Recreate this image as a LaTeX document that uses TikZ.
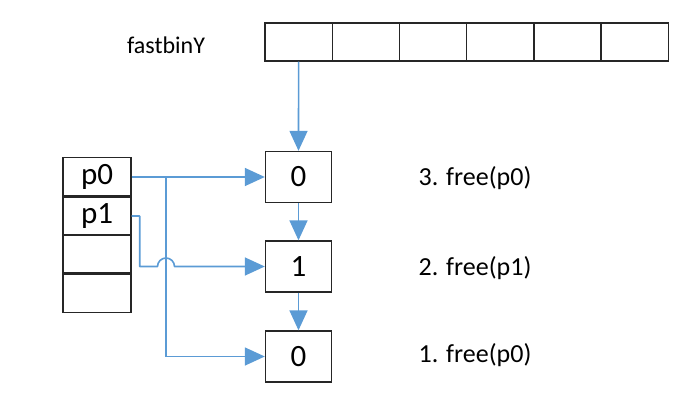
\documentclass[tikz,border=0pt]{standalone}
\usepackage{fontspec}
\setmainfont{Carlito}
\usepackage{xcolor}
\usetikzlibrary{arrows.meta,positioning,calc}
\definecolor{linkblue}{HTML}{5B9BD5}

\begin{document}
\begin{tikzpicture}[x=1pt, y=-1pt,
    cell/.style={draw=black!85, line width=1.4pt, minimum width=67.2pt, minimum height=38pt, inner sep=0pt},
    chunk/.style={draw=black!85, line width=1.4pt, minimum width=66pt, minimum height=51pt, inner sep=0pt, font=\fontsize{31}{34}\selectfont},
    slot/.style={draw=black!85, line width=1.4pt, minimum width=68pt, minimum height=38pt, inner sep=0pt, font=\fontsize{31}{34}\selectfont},
    link/.style={draw=linkblue, line width=1.6pt, -{Triangle[length=20pt, width=18pt]}},
    note/.style={font=\fontsize{26}{30}\selectfont}]
    \useasboundingbox (0,0) rectangle (697,410);

    % fastbin array
    \node[note, font=\fontsize{24}{28}\selectfont] (fbname) at (166,45) {fastbinY};
    \foreach \i in {0,...,5}
        \node[cell] (f\i) at (298.6+67.2*\i, 42) {};

    % chunks in the bin
    \node[chunk] (c0) at (298.5,177) {0};
    \node[chunk] (c1) at (298.5,266.5) {1};
    \node[chunk] (c2) at (298.5,356.5) {0};

    % pointer slots
    \node[slot] (s0) at (97,176.5) {p0};
    \node[slot] (s1) at (97,216) {p1};
    \node[slot] (s2) at (97,254) {};
    \node[slot] (s3) at (97,293.5) {};

    % free order
    \node[note] (n3) at (475,178) {3. free(p0)};
    \node[note] (n2) at (475,268) {2. free(p1)};
    \node[note] (n1) at (475,355) {1. free(p0)};

    % list links
    \draw[link] (f0.south) -- (c0.north);
    \draw[link] (c0) -- (c1);
    \draw[link] (c1) -- (c2);

    % pointers to chunks
    \coordinate (j0) at (166,177);
    \coordinate (hop) at (157.5,266.5);
    \draw[link] (s0.east |- c0.west) -- (c0.west);
    \draw[link] (j0) |- (c2.west);
    \draw[link, line join=round] (s1.east) -- ++(8,0) |- (hop)
        arc[start angle=180, end angle=360, radius=8.5] -- (c1.west);
\end{tikzpicture}
\end{document}
